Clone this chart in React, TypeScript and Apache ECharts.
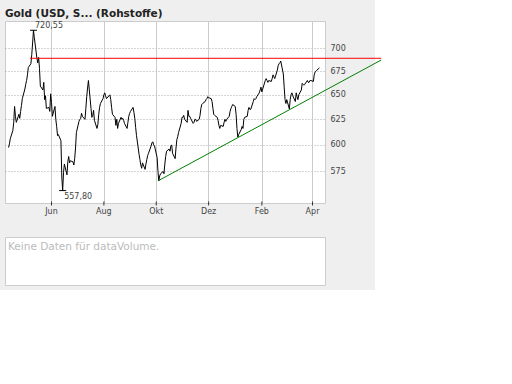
import React, { useEffect, useRef } from 'react';
import * as echarts from 'echarts';

const chartTitle = 'Gold (USD, S... (Rohstoffe)';
const volumeNote = 'Keine Daten für dataVolume.';

const dates = [
  '2006-04-12','2006-04-13','2006-04-14','2006-04-17','2006-04-18','2006-04-19','2006-04-20','2006-04-21','2006-04-24','2006-04-25','2006-04-26','2006-04-27','2006-04-28',
  '2006-05-01','2006-05-02','2006-05-03','2006-05-04','2006-05-05','2006-05-08','2006-05-09','2006-05-10','2006-05-11','2006-05-12','2006-05-15','2006-05-16','2006-05-17','2006-05-18','2006-05-19','2006-05-22','2006-05-23','2006-05-24','2006-05-25','2006-05-26','2006-05-29','2006-05-30','2006-05-31',
  '2006-06-01','2006-06-02','2006-06-05','2006-06-06','2006-06-07','2006-06-08','2006-06-09','2006-06-12','2006-06-13','2006-06-14','2006-06-15','2006-06-16','2006-06-19','2006-06-20','2006-06-21','2006-06-22','2006-06-23','2006-06-26','2006-06-27','2006-06-28','2006-06-29','2006-06-30',
  '2006-07-03','2006-07-04','2006-07-05','2006-07-06','2006-07-07','2006-07-10','2006-07-11','2006-07-12','2006-07-13','2006-07-14','2006-07-17','2006-07-18','2006-07-19','2006-07-20','2006-07-21','2006-07-24','2006-07-25','2006-07-26','2006-07-27','2006-07-28','2006-07-31',
  '2006-08-01','2006-08-02','2006-08-03','2006-08-04','2006-08-07','2006-08-08','2006-08-09','2006-08-10','2006-08-11','2006-08-14','2006-08-15','2006-08-16','2006-08-17','2006-08-18','2006-08-21','2006-08-22','2006-08-23','2006-08-24','2006-08-25','2006-08-28','2006-08-29','2006-08-30','2006-08-31',
  '2006-09-01','2006-09-04','2006-09-05','2006-09-06','2006-09-07','2006-09-08','2006-09-11','2006-09-12','2006-09-13','2006-09-14','2006-09-15','2006-09-18','2006-09-19','2006-09-20','2006-09-21','2006-09-22','2006-09-25','2006-09-26','2006-09-27','2006-09-28','2006-09-29',
  '2006-10-02','2006-10-03','2006-10-04','2006-10-05','2006-10-06','2006-10-09','2006-10-10','2006-10-11','2006-10-12','2006-10-13','2006-10-16','2006-10-17','2006-10-18','2006-10-19','2006-10-20','2006-10-23','2006-10-24','2006-10-25','2006-10-26','2006-10-27','2006-10-30','2006-10-31',
  '2006-11-01','2006-11-02','2006-11-03','2006-11-06','2006-11-07','2006-11-08','2006-11-09','2006-11-10','2006-11-13','2006-11-14','2006-11-15','2006-11-16','2006-11-17','2006-11-20','2006-11-21','2006-11-22','2006-11-23','2006-11-24','2006-11-27','2006-11-28','2006-11-29','2006-11-30',
  '2006-12-01','2006-12-04','2006-12-05','2006-12-06','2006-12-07','2006-12-08','2006-12-11','2006-12-12','2006-12-13','2006-12-14','2006-12-15','2006-12-18','2006-12-19','2006-12-20','2006-12-21','2006-12-22','2006-12-25','2006-12-26','2006-12-27','2006-12-28','2006-12-29',
  '2007-01-01','2007-01-02','2007-01-03','2007-01-04','2007-01-05','2007-01-08','2007-01-09','2007-01-10','2007-01-11','2007-01-12','2007-01-15','2007-01-16','2007-01-17','2007-01-18','2007-01-19','2007-01-22','2007-01-23','2007-01-24','2007-01-25','2007-01-26','2007-01-29','2007-01-30','2007-01-31',
  '2007-02-01','2007-02-02','2007-02-05','2007-02-06','2007-02-07','2007-02-08','2007-02-09','2007-02-12','2007-02-13','2007-02-14','2007-02-15','2007-02-16','2007-02-19','2007-02-20','2007-02-21','2007-02-22','2007-02-23','2007-02-26','2007-02-27','2007-02-28',
  '2007-03-01','2007-03-02','2007-03-05','2007-03-06','2007-03-07','2007-03-08','2007-03-09','2007-03-12','2007-03-13','2007-03-14','2007-03-15','2007-03-16','2007-03-19','2007-03-20','2007-03-21','2007-03-22','2007-03-23','2007-03-26','2007-03-27','2007-03-28','2007-03-29','2007-03-30',
  '2007-04-02','2007-04-03','2007-04-04','2007-04-05','2007-04-06','2007-04-09',
];

const prices = [
  597.5, 601, 606, 614, 622, 638, 628, 622, 630, 626, 633, 639, 646,
  656, 661, 665, 671, 679, 683, 693, 706, 720.55, 712, 689, 684, 690, 678, 659, 655, 663, 645, 649, 636, 637, 633, 651,
  642, 628, 638, 625, 618, 609, 610, 604, 570, 557.8, 574, 582, 572, 584, 589, 583, 585, 584, 581, 587, 597, 612,
  623, 625, 626, 631, 628, 625, 636, 648, 657, 665, 636, 627, 629, 634, 624, 616, 620, 630, 637, 641, 646,
  650, 652, 649, 646, 649, 650, 645, 637, 630, 627, 619, 625, 616, 621, 627, 625, 626, 624, 621, 616, 622, 628, 631,
  633, 637, 632, 626, 617, 609, 591, 586, 581, 578, 583, 577, 582, 586, 590, 592, 599, 602, 603, 600, 599,
  588, 575, 566.5, 571, 573, 575, 573, 582, 589, 594, 596, 594, 599, 600, 592, 587, 597, 605, 608, 612, 621, 627,
  627, 629, 625, 622, 634, 628, 628, 626, 621, 622, 625, 625, 623, 625, 629, 636, 640, 641, 643, 645, 646, 648,
  647, 646, 643, 636, 630, 629, 627, 624, 619, 616, 619, 618, 622, 625, 623, 625, 628, 633, 636, 638, 640,
  638, 630, 616, 607.5, 610, 615, 618, 616, 625, 627, 628, 634, 637, 635, 635, 643, 646, 645, 646, 648, 652, 655, 658,
  653, 656, 665, 667, 665, 663, 665, 664, 667, 671, 669, 667, 676, 681, 683, 684, 686, 672, 658, 645,
  641, 645, 635.5, 645, 650, 652, 649, 643, 652, 648, 645, 650, 655, 662, 661, 660, 661, 665, 663, 663, 665, 665,
  664, 671, 674, 675, 676, 678.5,
];

const monthTickDates = ['2006-06-01', '2006-08-01', '2006-10-01', '2006-12-01', '2007-02-01', '2007-04-01'];
const monthTickLabels = ['Jun', 'Aug', 'Okt', 'Dez', 'Feb', 'Apr'];
const priceTicks = [575, 600, 625, 650, 675, 700];
const priceTickLabels = ['575', '600', '625', '650', '675', '700'];

const resistanceDates = ['2006-05-07', '2007-06-20'];
const resistanceValues = [689.0, 689.0];
const supportDates = ['2006-10-04', '2007-06-20'];
const supportValues = [566.9, 687.1];

const xRange = ['2006-04-08T10:00', '2007-04-16T03:00'];
const yRange = [546.4, 730.7];

const ts = (s: string) => {
  const [d, t] = s.split('T');
  const [y, m, dd] = d.split('-').map(Number);
  const [hh, mm] = t ? t.split(':').map(Number) : [0, 0];
  return new Date(y, m - 1, dd, hh, mm).getTime();
};

const FONT = '"DejaVu Sans", Verdana, sans-serif';
const fmtDe = (v: number) => v.toFixed(2).replace('.', ',');

export default function App() {
  const ref = useRef<HTMLDivElement>(null);

  useEffect(() => {
    if (!ref.current) return;
    const chart = echarts.init(ref.current, undefined, { renderer: 'svg' });

    const hiIdx = prices.indexOf(Math.max(...prices));
    const loIdx = prices.indexOf(Math.min(...prices));

    const labelBase = { fontSize: 8, color: '#444', fontFamily: FONT };

    const baseGraphics: any[] = [
      {
        id: 'title',
        type: 'text',
        x: 5,
        y: 13,
        style: {
          text: chartTitle,
          fontFamily: FONT,
          fontWeight: 'bold',
          fontSize: 10.5,
          fill: '#222',
          verticalAlign: 'middle',
          textVerticalAlign: 'middle',
        },
      },
      {
        id: 'volBox',
        type: 'rect',
        shape: { x: 5.5, y: 237.5, width: 320, height: 48 },
        style: { fill: '#ffffff', stroke: '#cccccc', lineWidth: 1 },
      },
      {
        id: 'volText',
        type: 'text',
        x: 8,
        y: 245.8,
        style: {
          text: volumeNote,
          fontFamily: FONT,
          fontSize: 10.5,
          fill: '#bbbbbb',
          verticalAlign: 'middle',
          textVerticalAlign: 'middle',
        },
      },
    ];

    const option: any = {
      animation: false,
      backgroundColor: 'transparent',
      grid: {
        left: 5.5,
        top: 21.5,
        width: 320,
        height: 182,
        show: true,
        backgroundColor: '#ffffff',
        borderColor: '#cccccc',
        borderWidth: 1,
        containLabel: false,
        outerBoundsMode: 'none',
      },
      xAxis: {
        type: 'time',
        min: ts(xRange[0]),
        max: ts(xRange[1]),
        axisLabel: { show: false },
        axisTick: { show: false },
        axisLine: { show: false },
        splitLine: { show: false },
      },
      yAxis: {
        type: 'log',
        logBase: 10,
        position: 'right',
        min: yRange[0],
        max: yRange[1],
        axisLabel: { show: false },
        axisTick: { show: false },
        axisLine: { show: false },
        splitLine: { show: false },
      },
      graphic: baseGraphics,
      series: [
        {
          type: 'line',
          name: 'Gold',
          data: dates.map((d, i) => [ts(d), prices[i]]),
          symbol: 'none',
          showSymbol: false,
          lineStyle: { color: '#000000', width: 1 },
          z: 3,
          silent: true,
          markLine: {
            silent: true,
            symbol: 'none',
            z: 1,
            animation: false,
            data: [
              ...priceTicks.map((v, i) => ({
                yAxis: v,
                name: priceTickLabels[i],
                lineStyle: { color: '#aaaaaa', type: [1, 2], width: 1 },
                label: { show: true, position: 'end', formatter: '{b}', distance: 5, ...labelBase },
              })),
              ...monthTickDates.map((d, i) => ({
                xAxis: ts(d),
                name: monthTickLabels[i],
                lineStyle: { color: '#cccccc', type: 'solid', width: 1 },
                label: { show: true, position: 'start', formatter: '{b}', distance: 4, ...labelBase },
              })),
            ],
          },
          markPoint: {
            silent: true,
            animation: false,
            data: [
              {
                coord: [ts(dates[hiIdx]), prices[hiIdx]],
                symbol: 'rect',
                symbolSize: [7, 1],
                itemStyle: { color: '#000' },
                label: { show: true, position: [5, -8], formatter: fmtDe(prices[hiIdx]), ...labelBase },
              },
              {
                coord: [ts(dates[loIdx]), prices[loIdx]],
                symbol: 'rect',
                symbolSize: [7, 1],
                itemStyle: { color: '#000' },
                label: { show: true, position: [5, 2], formatter: fmtDe(prices[loIdx]), ...labelBase },
              },
              ...monthTickDates.map((d) => ({
                coord: [ts(d), yRange[0]],
                symbol: 'rect',
                symbolSize: [1, 4],
                itemStyle: { color: '#333' },
                label: { show: false },
              })),
            ],
          },
        },
      ],
    };

    chart.setOption(option);

    // Trend lines extend past the plot into the label area; place them via the chart's own scales.
    const toPx = (d: string, v: number) => chart.convertToPixel({ gridIndex: 0 }, [ts(d), v]) as number[];
    const r0 = toPx(resistanceDates[0], resistanceValues[0]);
    const r1 = toPx(resistanceDates[1], resistanceValues[1]);
    const s0 = toPx(supportDates[0], supportValues[0]);
    const s1 = toPx(supportDates[1], supportValues[1]);

    chart.setOption({
      graphic: [
        ...baseGraphics,
        {
          id: 'resistance',
          type: 'line',
          z: 10,
          silent: true,
          shape: { x1: r0[0], y1: r0[1], x2: r1[0], y2: r1[1] },
          style: { stroke: '#ff0000', lineWidth: 1 },
        },
        {
          id: 'support',
          type: 'line',
          z: 10,
          silent: true,
          shape: { x1: s0[0], y1: s0[1], x2: s1[0], y2: s1[1] },
          style: { stroke: '#008000', lineWidth: 1 },
        },
      ],
    });

    return () => chart.dispose();
  }, []);

  return (
    <div style={{ position: 'fixed', left: 0, top: 0, width: 512, height: 384, background: '#ffffff' }}>
      <div style={{ position: 'absolute', left: 0, top: 0, width: 375, height: 290, background: '#efefef' }} />
      <div ref={ref} style={{ position: 'absolute', left: 0, top: 0, width: 512, height: 384 }} />
    </div>
  );
}
